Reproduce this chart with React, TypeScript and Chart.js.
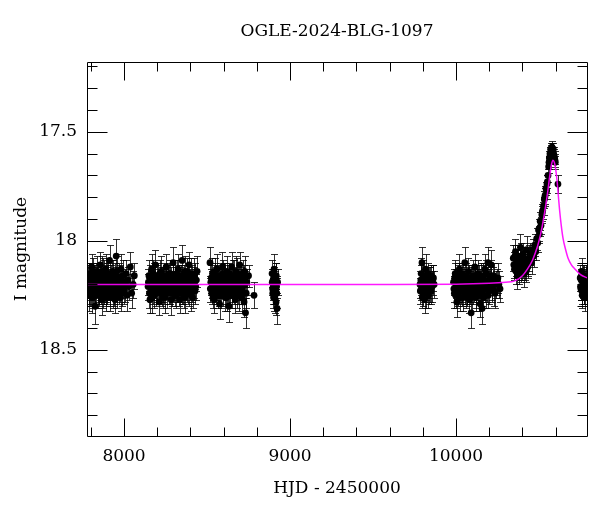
import React, { useEffect, useRef } from "react";
import { Chart, registerables } from "chart.js";

Chart.register(...registerables);

const TITLE = "OGLE-2024-BLG-1097";
const X_LABEL = "HJD - 2450000";
const Y_LABEL = "I magnitude";

const X_MIN = 7777;
const X_MAX = 10789;
const Y_MIN = 17.18;
const Y_MAX = 18.895;

const X_TICKS = [7800, 8000, 8200, 8400, 8600, 8800, 9000, 9200, 9400, 9600, 9800, 10000, 10200, 10400, 10600];
const X_MAJOR = [8000, 9000, 10000];
const Y_TICKS = [17.2, 17.3, 17.4, 17.5, 17.6, 17.7, 17.8, 17.9, 18.0, 18.1, 18.2, 18.3, 18.4, 18.5, 18.6, 18.7, 18.8];
const Y_MAJOR = [17.5, 18, 18.5];

// observations: [HJD-2450000, I mag, error]
const season1 = [
  [7783, 18.18, 0.06], [7788, 18.22, 0.07], [7792, 18.15, 0.05], [7796, 18.24, 0.06], [7801, 18.19, 0.08],
  [7805, 18.12, 0.06], [7809, 18.26, 0.07], [7813, 18.21, 0.05], [7818, 18.17, 0.06], [7822, 18.23, 0.07],
  [7826, 18.30, 0.08], [7830, 18.16, 0.06], [7835, 18.20, 0.05], [7839, 18.14, 0.07], [7843, 18.25, 0.06],
  [7848, 18.19, 0.06], [7852, 18.22, 0.08], [7857, 18.11, 0.06], [7861, 18.18, 0.05], [7866, 18.27, 0.07],
  [7870, 18.21, 0.06], [7875, 18.15, 0.07], [7880, 18.23, 0.06], [7884, 18.19, 0.05], [7889, 18.13, 0.07],
  [7894, 18.24, 0.06], [7898, 18.20, 0.08], [7903, 18.17, 0.06], [7908, 18.22, 0.05], [7913, 18.09, 0.07],
  [7918, 18.26, 0.06], [7923, 18.18, 0.07], [7928, 18.21, 0.06], [7933, 18.14, 0.05], [7938, 18.23, 0.07],
  [7943, 18.19, 0.06], [7948, 18.16, 0.06], [7953, 18.07, 0.08], [7958, 18.25, 0.06], [7964, 18.20, 0.05],
  [7970, 18.17, 0.07], [7976, 18.22, 0.06], [7982, 18.13, 0.07], [7989, 18.24, 0.06], [7996, 18.19, 0.05],
  [8004, 18.21, 0.07], [8013, 18.15, 0.06], [8024, 18.18, 0.06], [8038, 18.12, 0.07], [8055, 18.20, 0.06],
];
const season1b = [
  [7786, 18.20, 0.06], [7790, 18.25, 0.07], [7794, 18.17, 0.06], [7799, 18.21, 0.05], [7803, 18.23, 0.07],
  [7807, 18.18, 0.06], [7811, 18.14, 0.06], [7816, 18.24, 0.07], [7820, 18.19, 0.06], [7824, 18.16, 0.05],
  [7828, 18.22, 0.07], [7833, 18.25, 0.06], [7837, 18.18, 0.06], [7841, 18.21, 0.07], [7846, 18.16, 0.06],
  [7850, 18.24, 0.05], [7855, 18.20, 0.07], [7859, 18.23, 0.06], [7864, 18.17, 0.06], [7868, 18.14, 0.07],
  [7872, 18.25, 0.06], [7878, 18.19, 0.05], [7882, 18.16, 0.07], [7887, 18.22, 0.06], [7891, 18.26, 0.06],
  [7896, 18.17, 0.07], [7900, 18.23, 0.06], [7906, 18.15, 0.05], [7911, 18.20, 0.07], [7916, 18.24, 0.06],
  [7920, 18.21, 0.06], [7926, 18.16, 0.07], [7931, 18.25, 0.06], [7936, 18.19, 0.05], [7941, 18.22, 0.07],
  [7946, 18.27, 0.06], [7951, 18.18, 0.06], [7956, 18.14, 0.07], [7961, 18.21, 0.06], [7967, 18.24, 0.05],
  [7973, 18.18, 0.07], [7979, 18.26, 0.06], [7986, 18.20, 0.06], [7993, 18.16, 0.07], [8000, 18.23, 0.06],
  [8008, 18.19, 0.06], [8018, 18.25, 0.07], [8030, 18.21, 0.06], [8046, 18.24, 0.07], [8062, 18.16, 0.06],
];

const season2 = [
  [8145, 18.21, 0.06], [8150, 18.16, 0.07], [8156, 18.27, 0.06], [8161, 18.19, 0.05], [8166, 18.13, 0.07],
  [8172, 18.23, 0.06], [8178, 18.18, 0.08], [8183, 18.25, 0.06], [8189, 18.11, 0.07], [8195, 18.20, 0.05],
  [8200, 18.22, 0.06], [8206, 18.17, 0.07], [8212, 18.28, 0.06], [8218, 18.19, 0.05], [8224, 18.14, 0.07],
  [8230, 18.24, 0.06], [8236, 18.20, 0.08], [8242, 18.16, 0.06], [8248, 18.26, 0.07], [8254, 18.12, 0.06],
  [8260, 18.21, 0.05], [8266, 18.18, 0.07], [8272, 18.23, 0.06], [8278, 18.15, 0.06], [8284, 18.27, 0.07],
  [8290, 18.19, 0.05], [8296, 18.10, 0.07], [8302, 18.22, 0.06], [8308, 18.17, 0.08], [8314, 18.25, 0.06],
  [8320, 18.20, 0.05], [8326, 18.13, 0.07], [8332, 18.24, 0.06], [8338, 18.18, 0.06], [8344, 18.21, 0.07],
  [8350, 18.09, 0.07], [8356, 18.23, 0.06], [8362, 18.16, 0.05], [8368, 18.26, 0.07], [8374, 18.19, 0.06],
  [8380, 18.14, 0.06], [8386, 18.22, 0.07], [8392, 18.11, 0.06], [8398, 18.20, 0.05], [8404, 18.25, 0.07],
  [8410, 18.17, 0.06], [8416, 18.21, 0.06], [8422, 18.15, 0.07], [8428, 18.23, 0.06], [8436, 18.18, 0.05],
];
const season2b = [
  [8147, 18.19, 0.06], [8153, 18.24, 0.07], [8158, 18.17, 0.06], [8164, 18.22, 0.05], [8169, 18.26, 0.07],
  [8175, 18.15, 0.06], [8180, 18.21, 0.06], [8186, 18.18, 0.07], [8192, 18.24, 0.06], [8198, 18.16, 0.05],
  [8203, 18.20, 0.07], [8209, 18.23, 0.06], [8215, 18.15, 0.06], [8221, 18.21, 0.07], [8227, 18.18, 0.06],
  [8233, 18.26, 0.05], [8239, 18.22, 0.07], [8245, 18.19, 0.06], [8251, 18.17, 0.06], [8257, 18.24, 0.07],
  [8263, 18.20, 0.06], [8269, 18.15, 0.05], [8275, 18.22, 0.07], [8281, 18.18, 0.06], [8287, 18.24, 0.06],
  [8293, 18.16, 0.07], [8299, 18.21, 0.06], [8305, 18.25, 0.05], [8311, 18.19, 0.07], [8317, 18.15, 0.06],
  [8323, 18.22, 0.06], [8329, 18.18, 0.07], [8335, 18.27, 0.06], [8341, 18.16, 0.05], [8347, 18.22, 0.07],
  [8353, 18.19, 0.06], [8359, 18.25, 0.06], [8365, 18.14, 0.07], [8371, 18.21, 0.06], [8377, 18.23, 0.05],
  [8383, 18.17, 0.07], [8389, 18.24, 0.06], [8395, 18.19, 0.06], [8401, 18.15, 0.07], [8407, 18.22, 0.06],
  [8413, 18.26, 0.05], [8419, 18.19, 0.07], [8425, 18.16, 0.06], [8432, 18.21, 0.06], [8440, 18.14, 0.07],
];

const season3 = [
  [8518, 18.10, 0.07], [8523, 18.19, 0.06], [8528, 18.24, 0.05], [8533, 18.15, 0.07], [8538, 18.21, 0.06],
  [8543, 18.27, 0.06], [8549, 18.17, 0.07], [8554, 18.22, 0.05], [8560, 18.13, 0.07], [8565, 18.25, 0.06],
  [8571, 18.19, 0.06], [8576, 18.29, 0.07], [8582, 18.16, 0.06], [8587, 18.21, 0.05], [8593, 18.12, 0.07],
  [8598, 18.24, 0.06], [8604, 18.18, 0.08], [8609, 18.26, 0.06], [8615, 18.20, 0.05], [8620, 18.14, 0.07],
  [8626, 18.23, 0.06], [8631, 18.30, 0.07], [8637, 18.17, 0.06], [8642, 18.21, 0.05], [8648, 18.12, 0.07],
  [8653, 18.25, 0.06], [8659, 18.19, 0.06], [8664, 18.16, 0.07], [8670, 18.27, 0.06], [8675, 18.22, 0.05],
  [8681, 18.15, 0.07], [8686, 18.20, 0.06], [8692, 18.24, 0.08], [8697, 18.11, 0.06], [8703, 18.18, 0.05],
  [8708, 18.26, 0.07], [8714, 18.21, 0.06], [8720, 18.17, 0.06], [8726, 18.14, 0.07], [8732, 18.33, 0.07],
  [8740, 18.19, 0.06], [8750, 18.16, 0.05], [8783, 18.25, 0.06],
];
const season3b = [
  [8520, 18.22, 0.06], [8526, 18.17, 0.07], [8531, 18.20, 0.06], [8536, 18.26, 0.05], [8541, 18.18, 0.07],
  [8546, 18.14, 0.06], [8552, 18.23, 0.06], [8557, 18.19, 0.07], [8562, 18.21, 0.06], [8568, 18.16, 0.05],
  [8574, 18.23, 0.07], [8579, 18.18, 0.06], [8585, 18.25, 0.06], [8590, 18.19, 0.07], [8596, 18.15, 0.06],
  [8601, 18.21, 0.05], [8607, 18.17, 0.07], [8612, 18.23, 0.06], [8618, 18.26, 0.06], [8623, 18.18, 0.07],
  [8629, 18.20, 0.06], [8634, 18.15, 0.05], [8640, 18.24, 0.07], [8645, 18.19, 0.06], [8651, 18.22, 0.06],
  [8656, 18.16, 0.07], [8662, 18.23, 0.06], [8667, 18.20, 0.05], [8673, 18.14, 0.07], [8678, 18.25, 0.06],
  [8684, 18.18, 0.06], [8689, 18.22, 0.07], [8695, 18.17, 0.06], [8700, 18.21, 0.05], [8706, 18.19, 0.07],
  [8711, 18.23, 0.06], [8717, 18.15, 0.06], [8723, 18.28, 0.07], [8729, 18.20, 0.06], [8736, 18.24, 0.07],
];

const season4 = [
  [8892, 18.15, 0.06], [8895, 18.22, 0.07], [8898, 18.18, 0.05], [8901, 18.26, 0.06], [8904, 18.13, 0.07],
  [8907, 18.20, 0.06], [8910, 18.24, 0.05], [8913, 18.17, 0.07], [8916, 18.28, 0.06], [8919, 18.21, 0.05],
  [8922, 18.31, 0.07], [8925, 18.19, 0.06],
  [8893, 18.19, 0.06], [8896, 18.24, 0.07], [8899, 18.21, 0.06], [8902, 18.17, 0.05], [8905, 18.23, 0.06],
  [8908, 18.26, 0.07], [8911, 18.19, 0.06], [8914, 18.22, 0.05], [8917, 18.16, 0.06], [8920, 18.24, 0.07],
];

const season5 = [
  [9783, 18.20, 0.06], [9790, 18.15, 0.07], [9795, 18.10, 0.07], [9800, 18.24, 0.06], [9806, 18.18, 0.05],
  [9811, 18.27, 0.06], [9817, 18.13, 0.07], [9822, 18.21, 0.06], [9828, 18.17, 0.05], [9834, 18.25, 0.06],
  [9840, 18.19, 0.07], [9846, 18.22, 0.06], [9852, 18.16, 0.05], [9860, 18.18, 0.07], [9868, 18.20, 0.06],
  [9785, 18.23, 0.06], [9788, 18.18, 0.07], [9792, 18.21, 0.06], [9797, 18.26, 0.05], [9803, 18.16, 0.07],
  [9808, 18.22, 0.06], [9814, 18.19, 0.06], [9819, 18.24, 0.07], [9825, 18.20, 0.06], [9831, 18.15, 0.05],
  [9837, 18.22, 0.07], [9843, 18.18, 0.06], [9849, 18.23, 0.06], [9856, 18.21, 0.07], [9864, 18.17, 0.06],
];

const season6 = [
  [9985, 18.19, 0.06], [9990, 18.24, 0.07], [9995, 18.15, 0.06], [10000, 18.21, 0.05], [10005, 18.28, 0.07],
  [10010, 18.17, 0.06], [10015, 18.22, 0.06], [10020, 18.13, 0.07], [10026, 18.26, 0.06], [10031, 18.19, 0.05],
  [10036, 18.23, 0.07], [10042, 18.16, 0.06], [10047, 18.20, 0.06], [10053, 18.10, 0.07], [10058, 18.25, 0.06],
  [10064, 18.18, 0.05], [10069, 18.22, 0.07], [10075, 18.14, 0.06], [10080, 18.27, 0.06], [10086, 18.21, 0.07],
  [10091, 18.33, 0.07], [10097, 18.17, 0.06], [10102, 18.24, 0.05], [10108, 18.19, 0.07], [10113, 18.12, 0.06],
  [10119, 18.26, 0.06], [10124, 18.20, 0.07], [10130, 18.15, 0.06], [10135, 18.23, 0.05], [10141, 18.18, 0.07],
  [10146, 18.29, 0.06], [10152, 18.21, 0.06], [10157, 18.31, 0.07], [10163, 18.16, 0.06], [10168, 18.22, 0.05],
  [10174, 18.13, 0.07], [10180, 18.25, 0.06], [10186, 18.19, 0.06], [10192, 18.10, 0.07], [10198, 18.23, 0.06],
  [10205, 18.17, 0.05], [10212, 18.11, 0.07], [10219, 18.21, 0.06], [10226, 18.16, 0.06], [10235, 18.24, 0.07],
  [10246, 18.19, 0.06], [10258, 18.20, 0.06],
];
const season6b = [
  [9987, 18.22, 0.06], [9992, 18.17, 0.07], [9997, 18.25, 0.06], [10002, 18.18, 0.05], [10007, 18.21, 0.07],
  [10012, 18.24, 0.06], [10017, 18.16, 0.06], [10023, 18.20, 0.07], [10028, 18.23, 0.06], [10033, 18.15, 0.05],
  [10039, 18.21, 0.07], [10044, 18.26, 0.06], [10050, 18.18, 0.06], [10055, 18.22, 0.07], [10061, 18.16, 0.06],
  [10066, 18.25, 0.05], [10072, 18.20, 0.07], [10077, 18.17, 0.06], [10083, 18.23, 0.06], [10088, 18.19, 0.07],
  [10094, 18.26, 0.06], [10099, 18.21, 0.05], [10105, 18.16, 0.07], [10110, 18.22, 0.06], [10116, 18.19, 0.06],
  [10121, 18.24, 0.07], [10127, 18.17, 0.06], [10132, 18.21, 0.05], [10138, 18.25, 0.07], [10143, 18.19, 0.06],
  [10149, 18.16, 0.06], [10154, 18.23, 0.07], [10160, 18.20, 0.06], [10165, 18.26, 0.05], [10171, 18.18, 0.07],
  [10177, 18.22, 0.06], [10183, 18.15, 0.06], [10189, 18.21, 0.07], [10195, 18.25, 0.06], [10201, 18.19, 0.06],
  [10208, 18.16, 0.07], [10215, 18.22, 0.06], [10222, 18.18, 0.06], [10230, 18.23, 0.07], [10240, 18.20, 0.06],
  [10252, 18.17, 0.07], [10265, 18.22, 0.06],
];

const season7 = [
  [10345, 18.08, 0.06], [10352, 18.13, 0.05], [10358, 18.05, 0.06], [10364, 18.11, 0.05], [10370, 18.16, 0.06],
  [10376, 18.07, 0.05], [10382, 18.12, 0.06], [10388, 18.03, 0.06], [10394, 18.14, 0.05], [10400, 18.09, 0.06],
  [10406, 18.06, 0.05], [10412, 18.15, 0.06], [10418, 18.10, 0.05], [10425, 18.04, 0.06], [10432, 18.12, 0.05],
  [10440, 18.08, 0.06],
  [10348, 18.11, 0.06], [10355, 18.07, 0.05], [10361, 18.14, 0.06], [10367, 18.09, 0.05], [10373, 18.12, 0.06],
  [10379, 18.15, 0.05], [10385, 18.10, 0.06], [10391, 18.07, 0.06], [10397, 18.13, 0.05], [10403, 18.11, 0.06],
  [10409, 18.08, 0.05], [10415, 18.12, 0.06], [10422, 18.14, 0.05], [10429, 18.09, 0.06], [10436, 18.11, 0.05],
];

const peak = [
  [10448, 18.06, 0.05], [10455, 18.10, 0.05], [10462, 18.04, 0.05], [10468, 18.07, 0.05], [10474, 18.02, 0.05],
  [10480, 18.05, 0.04], [10486, 17.99, 0.05], [10492, 18.01, 0.04], [10497, 17.95, 0.05], [10502, 17.97, 0.04],
  [10507, 17.91, 0.04], [10512, 17.93, 0.04], [10517, 17.88, 0.04], [10522, 17.86, 0.04], [10527, 17.84, 0.04],
  [10532, 17.81, 0.04], [10537, 17.79, 0.04], [10542, 17.76, 0.03], [10546, 17.77, 0.04], [10550, 17.73, 0.03],
  [10554, 17.70, 0.03], [10558, 17.66, 0.03], [10562, 17.62, 0.03], [10566, 17.60, 0.03], [10570, 17.58, 0.03],
  [10574, 17.59, 0.03], [10578, 17.57, 0.03], [10582, 17.60, 0.03], [10586, 17.58, 0.03], [10590, 17.61, 0.03],
  [10594, 17.62, 0.03], [10598, 17.64, 0.03], [10614, 17.74, 0.04],
  [10505, 17.94, 0.04], [10520, 17.87, 0.04], [10535, 17.80, 0.04], [10548, 17.74, 0.04], [10560, 17.64, 0.03],
  [10572, 17.61, 0.03], [10580, 17.58, 0.03], [10588, 17.60, 0.03], [10596, 17.63, 0.03],
];

const season8 = [
  [10748, 18.17, 0.06], [10752, 18.22, 0.05], [10756, 18.14, 0.06], [10760, 18.25, 0.06], [10764, 18.19, 0.05],
  [10768, 18.23, 0.06], [10772, 18.16, 0.05], [10776, 18.26, 0.06], [10780, 18.20, 0.05], [10784, 18.18, 0.06],
  [10750, 18.21, 0.06], [10754, 18.18, 0.05], [10758, 18.23, 0.06], [10762, 18.16, 0.05], [10766, 18.20, 0.06],
  [10770, 18.24, 0.05], [10774, 18.19, 0.06], [10778, 18.22, 0.05], [10782, 18.17, 0.06], [10786, 18.21, 0.06],
];

// model curve
const modelHjd = [7777, 8500, 9000, 9500, 10000, 10200, 10300, 10350, 10400, 10430, 10460, 10480, 10500, 10520,
  10540, 10555, 10565, 10575, 10584, 10592, 10600, 10608, 10616, 10624, 10634, 10645, 10660, 10675, 10695,
  10717, 10750, 10789];
const modelMag = [18.20, 18.20, 18.20, 18.20, 18.199, 18.195, 18.19, 18.185, 18.16, 18.13, 18.09, 18.05, 18.00,
  17.93, 17.84, 17.76, 17.70, 17.65, 17.63, 17.64, 17.67, 17.72, 17.79, 17.86, 17.93, 17.99, 18.04, 18.08,
  18.11, 18.13, 18.155, 18.17];

const allObs = [
  ...season1, ...season1b, ...season2, ...season2b, ...season3, ...season3b, ...season4, ...season5,
  ...season6, ...season6b, ...season7, ...peak, ...season8,
];

const FONT = "'DejaVu Serif', serif";

const decorPlugin = {
  id: "decor",
  beforeDatasetsDraw(chart: any) {
    const ctx = chart.ctx;
    const xs = chart.scales.x;
    const ys = chart.scales.y;
    const ca = chart.chartArea;
    ctx.save();
    ctx.beginPath();
    ctx.rect(ca.left, ca.top, ca.right - ca.left, ca.bottom - ca.top);
    ctx.clip();
    ctx.strokeStyle = "rgba(0,0,0,0.8)";
    ctx.lineWidth = 1;
    for (const [h, m, e] of allObs) {
      const px = Math.round(xs.getPixelForValue(h)) + 0.5;
      const y1 = Math.round(ys.getPixelForValue(m - e)) + 0.5;
      const y2 = Math.round(ys.getPixelForValue(m + e)) + 0.5;
      ctx.beginPath();
      ctx.moveTo(px, y1);
      ctx.lineTo(px, y2);
      ctx.moveTo(px - 3.5, y1);
      ctx.lineTo(px + 3.5, y1);
      ctx.moveTo(px - 3.5, y2);
      ctx.lineTo(px + 3.5, y2);
      ctx.stroke();
    }
    ctx.restore();
  },
  afterDraw(chart: any) {
    const ctx = chart.ctx;
    const xs = chart.scales.x;
    const ys = chart.scales.y;
    const ca = chart.chartArea;
    const L = Math.round(ca.left) + 0.5;
    const R = Math.round(ca.right) + 0.5;
    const T = Math.round(ca.top) + 0.5;
    const B = Math.round(ca.bottom) + 0.5;
    ctx.save();
    ctx.strokeStyle = "#000";
    ctx.lineWidth = 1;
    ctx.beginPath();
    ctx.rect(L, T, R - L, B - T);
    ctx.stroke();
    ctx.beginPath();
    for (const v of X_TICKS) {
      const px = Math.round(xs.getPixelForValue(v)) + 0.5;
      const len = X_MAJOR.includes(v) ? 18 : 9;
      ctx.moveTo(px, B);
      ctx.lineTo(px, B - len);
      ctx.moveTo(px, T);
      ctx.lineTo(px, T + len);
    }
    for (const v of Y_TICKS) {
      const py = Math.round(ys.getPixelForValue(v)) + 0.5;
      const major = Y_MAJOR.some((m) => Math.abs(m - v) < 1e-6);
      const len = major ? 20 : 10;
      ctx.moveTo(L, py);
      ctx.lineTo(L + len, py);
      ctx.moveTo(R, py);
      ctx.lineTo(R - len, py);
    }
    ctx.stroke();

    ctx.fillStyle = "#000";
    ctx.font = `17px ${FONT}`;
    ctx.textAlign = "center";
    ctx.textBaseline = "middle";
    const cx = (ca.left + ca.right) / 2;
    ctx.fillText(TITLE, cx, 32);
    ctx.fillText(X_LABEL, cx, 489);
    ctx.translate(22, (ca.top + ca.bottom) / 2);
    ctx.rotate(-Math.PI / 2);
    ctx.fillText(Y_LABEL, 0, 0);
    ctx.restore();
  },
};

export default function App() {
  const ref = useRef<HTMLCanvasElement | null>(null);
  useEffect(() => {
    if (!ref.current) return;
    const chart = new Chart(ref.current, {
      type: "scatter",
      data: {
        datasets: [
          {
            type: "line",
            label: "model",
            data: modelHjd.map((x, i) => ({ x, y: modelMag[i] })),
            borderColor: "rgba(255,0,255,0.9)",
            borderWidth: 1.5,
            pointRadius: 0,
            fill: false,
            cubicInterpolationMode: "monotone",
          } as any,
          {
            type: "scatter",
            label: "OGLE",
            data: allObs.map(([x, y]) => ({ x, y })),
            pointRadius: 3.4,
            pointBackgroundColor: "#000",
            pointBorderWidth: 0,
            borderColor: "#000",
          } as any,
        ],
      },
      options: {
        animation: false,
        responsive: false,
        events: [],
        layout: { padding: { top: 62, right: 13, left: 0, bottom: 0 } },
        plugins: { legend: { display: false }, tooltip: { enabled: false }, title: { display: false } },
        scales: {
          x: {
            type: "linear",
            min: X_MIN,
            max: X_MAX,
            grid: { display: false, drawTicks: false },
            border: { display: false },
            afterBuildTicks: (s: any) => {
              s.ticks = X_TICKS.map((value) => ({ value }));
            },
            afterFit: (s: any) => {
              s.height = 76;
            },
            ticks: {
              autoSkip: false,
              maxRotation: 0,
              padding: 10,
              color: "#000",
              font: { family: FONT, size: 17 },
              callback: (v: any) => (X_MAJOR.includes(v) ? String(v) : ""),
            },
          },
          y: {
            type: "linear",
            reverse: true,
            min: Y_MIN,
            max: Y_MAX,
            grid: { display: false, drawTicks: false },
            border: { display: false },
            afterBuildTicks: (s: any) => {
              s.ticks = Y_TICKS.map((value) => ({ value }));
            },
            afterFit: (s: any) => {
              s.width = 87;
            },
            ticks: {
              autoSkip: false,
              padding: 10,
              color: "#000",
              font: { family: FONT, size: 17 },
              callback: (v: any) => {
                const m = Y_MAJOR.find((mm) => Math.abs(mm - v) < 1e-6);
                return m === undefined ? "" : String(m);
              },
            },
          },
        },
      },
      plugins: [decorPlugin],
    } as any);
    return () => chart.destroy();
  }, []);
  return (
    <div style={{ position: "absolute", left: 0, top: 0, width: 600, height: 512, background: "#fff" }}>
      <canvas ref={ref} width={600} height={512} style={{ display: "block", width: 600, height: 512 }} />
    </div>
  );
}
